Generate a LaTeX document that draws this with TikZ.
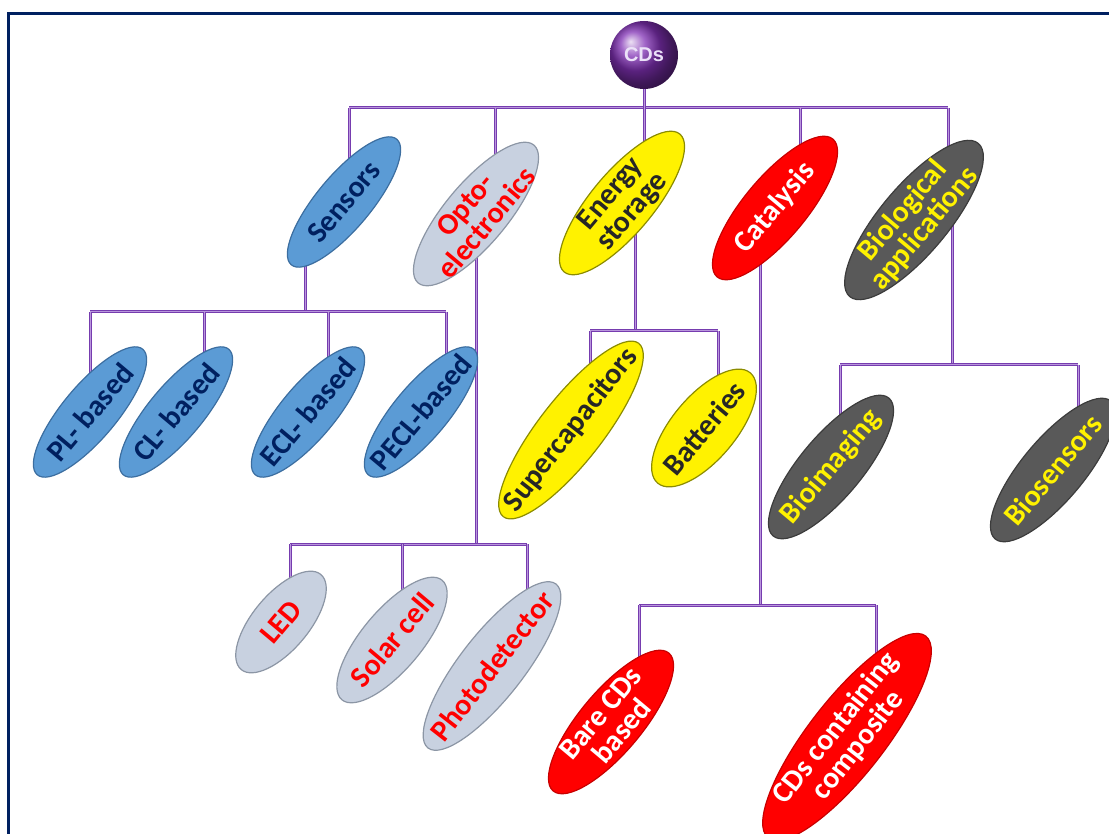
\documentclass[tikz,border=0pt]{standalone}
\usepackage{fontspec}
\setmainfont{Carlito}
\newfontfamily\arialfont{Liberation Sans}
\usetikzlibrary{shapes.geometric,backgrounds}
\definecolor{framecol}{RGB}{0,32,96}
\definecolor{linepurple}{RGB}{118,60,175}
\definecolor{linelav}{RGB}{185,150,220}
\definecolor{cdball}{RGB}{128,48,180}
\definecolor{cdtext}{RGB}{235,225,248}
\definecolor{sensfill}{RGB}{91,155,213}
\definecolor{sensborder}{RGB}{60,110,160}
\definecolor{senstext}{RGB}{0,32,96}
\definecolor{optofill}{RGB}{200,209,224}
\definecolor{optoborder}{RGB}{140,150,165}
\definecolor{energyborder}{RGB}{140,140,0}
\definecolor{energytext}{RGB}{38,38,38}
\definecolor{catborder}{RGB}{200,0,0}
\definecolor{biofill}{RGB}{89,89,89}
\definecolor{bioborder}{RGB}{60,60,60}
\tikzset{
  conn/.style={draw=linepurple, double=linelav, line width=1pt, double distance=1pt},
  frameline/.style={draw=framecol, line width=3pt},
  oval/.style={ellipse, rotate=50, inner xsep=-30pt, inner ysep=-10pt, align=center,
    font=\fontsize{30}{28}\selectfont\bfseries, line width=1.2pt},
  sensgrp/.style={oval, fill=sensfill, draw=sensborder, text=senstext},
  optogrp/.style={oval, fill=optofill, draw=optoborder, text=red},
  energygrp/.style={oval, fill=yellow, draw=energyborder, text=energytext},
  catgrp/.style={oval, fill=red, draw=catborder, text=white},
  biogrp/.style={oval, fill=biofill, draw=bioborder, text=yellow},
  szS/.style={minimum width=164, minimum height=54},
  szM/.style={minimum width=180, minimum height=62},
  szBio/.style={minimum width=200, minimum height=68},
  szLED/.style={minimum width=124, minimum height=56},
  szSolar/.style={minimum width=156, minimum height=60},
  szPhoto/.style={minimum width=208, minimum height=64, rotate=2},
  szSup/.style={minimum width=220, minimum height=64, rotate=2},
  szBatt/.style={minimum width=144, minimum height=64},
  szComp/.style={minimum width=256, minimum height=76, rotate=2},
}
\begin{document}
\begin{tikzpicture}[x=1pt,y=-1pt]
\useasboundingbox (0,0) rectangle (1109,834);
\draw[frameline] (1109,14) -- (8,14) -- (8,834);

% root
\node[circle, minimum size=68, inner sep=0, shading=ball, ball color=cdball, text=cdtext,
  font=\arialfont\bfseries\fontsize{20}{20}\selectfont] (cds) at (644,55) {CDs};

% level 1
\node[sensgrp, szS] (sens) at (344,202) {Sensors};
\node[optogrp, szM] (opto) at (476,214) {Opto-\\electronics};
\node[energygrp, szM] (energy) at (622,203) {Energy\\storage};
\node[catgrp, szM] (cat) at (775,208) {Catalysis};
\node[biogrp, szBio] (bio) at (914,220) {Biological\\applications};

% sensors children
\node[sensgrp, szS] (pl) at (90,412) {PL- based};
\node[sensgrp, szS] (cl) at (176,412) {CL- based};
\node[sensgrp, szS] (ecl) at (308,412) {ECL- based};
\node[sensgrp, szS] (pecl) at (421,412) {PECL-based};

% opto children
\node[optogrp, szLED] (led) at (281,622) {LED};
\node[optogrp, szSolar] (solar) at (392,640) {Solar cell};
\node[optogrp, szPhoto] (photo) at (492,666) {Photodetector};

% energy children
\node[energygrp, szSup] (sup) at (571,430) {Supercapacitors};
\node[energygrp, szBatt] (batt) at (704,428) {Batteries};

% catalysis children
\node[catgrp, szM] (bare) at (611,722) {Bare CDs\\based};
\node[catgrp, szComp] (comp) at (847,737) {CDs containing\\composite};

% bio children
\node[biogrp, szM] (bioimg) at (831,467) {Bioimaging};
\node[biogrp, szM] (biosens) at (1053,470) {Biosensors};

\begin{pgfonlayer}{background}
  % top bus
  \coordinate (t1) at (349,108);
  \coordinate (t2) at (495,108);
  \coordinate (t3) at (643,108);
  \coordinate (t4) at (800,108);
  \coordinate (t5) at (948,108);
  \draw[conn] (t1) -- (t5);
  \draw[conn] (cds) -- (cds |- energy);
  \draw[conn] (t1) -- (t1 |- sens);
  \draw[conn] (t2) -- (t2 |- opto);
  \draw[conn] (t4) -- (t4 |- cat);
  \draw[conn] (t5) -- (t5 |- bio);
  % sensors bus
  \coordinate (s0) at (305,312);
  \coordinate (s1) at (90,312);
  \coordinate (s2) at (204,312);
  \coordinate (s3) at (328,312);
  \coordinate (s4) at (446,312);
  \draw[conn] (s0 |- sens.west) -- (s0);
  \draw[conn] (s1) -- (s4);
  \draw[conn] (s1) -- (s1 |- pl);
  \draw[conn] (s2) -- (s2 |- cl);
  \draw[conn] (s3) -- (s3 |- ecl);
  \draw[conn] (s4) -- (s4 |- pecl);
  % opto bus
  \coordinate (o0) at (476,544);
  \coordinate (o1) at (290,544);
  \coordinate (o2) at (402,544);
  \coordinate (o3) at (527,544);
  \draw[conn] (o0 |- opto) -- (o0);
  \draw[conn] (o1) -- (o3);
  \draw[conn] (o1) -- (o1 |- led);
  \draw[conn] (o2) -- (o2 |- solar);
  \draw[conn] (o3) -- (o3 |- photo);
  % energy bus
  \coordinate (e0) at (635,331);
  \coordinate (e1) at (590,331);
  \coordinate (e2) at (718,331);
  \draw[conn] (e0 |- energy) -- (e0);
  \draw[conn] (e1) -- (e2);
  \draw[conn] (e1) -- (e1 |- sup);
  \draw[conn] (e2) -- (e2 |- batt);
  % catalysis bus
  \coordinate (c0) at (760,605);
  \coordinate (c1) at (639,605);
  \coordinate (c2) at (876,605);
  \draw[conn] (c0 |- cat) -- (c0);
  \draw[conn] (c1) -- (c2);
  \draw[conn] (c1) -- (c1 |- bare);
  \draw[conn] (c2) -- (c2 |- comp);
  % bio bus
  \coordinate (b0) at (952,365);
  \coordinate (b1) at (840,365);
  \coordinate (b2) at (1078,365);
  \draw[conn] (b0 |- bio) -- (b0);
  \draw[conn] (b1) -- (b2);
  \draw[conn] (b1) -- (b1 |- bioimg);
  \draw[conn] (b2) -- (b2 |- biosens);
\end{pgfonlayer}
\end{tikzpicture}
\end{document}
